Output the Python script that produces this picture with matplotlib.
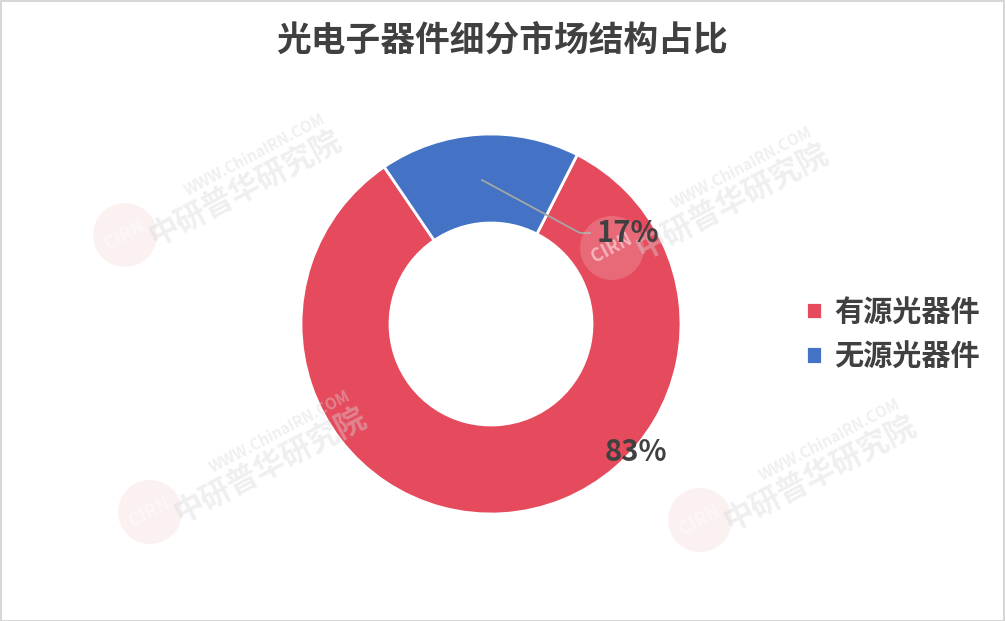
import numpy as np
import matplotlib.pyplot as plt
from matplotlib.patches import Circle, Rectangle

plt.rcParams['font.family'] = ['Noto Sans CJK SC', 'DejaVu Sans']

title = '光电子器件细分市场结构占比'
labels = ['有源光器件', '无源光器件']
values = [83, 17]
colors = ['#e54b5d', '#4472c4']
text_color = '#404040'

W, H = 1005, 621
fig = plt.figure(figsize=(W / 100, H / 100), dpi=100)
ax = fig.add_axes([0, 0, 1, 1])

# watermarks (faint)
def watermark(x, y):
    ang = 28
    ax.add_patch(Circle((x, H - y), 32, facecolor='#f3c9c9', edgecolor='none', alpha=0.25, zorder=5))
    ax.text(x, H - y, 'CIRN', fontsize=13, fontstyle='italic', fontweight='bold', color='white',
            alpha=0.5, rotation=ang, ha='center', va='center', zorder=6)
    t = np.radians(ang)
    ax.text(x + 40 + 90 * np.cos(t), H - y + 5 + 90 * np.sin(t), '中研普华研究院', fontsize=22, fontweight='bold',
            color='#d9d9d9', alpha=0.4, rotation=ang, ha='center', va='center', zorder=6)
    ax.text(x + 50 + 90 * np.cos(t), H - y + 38 + 90 * np.sin(t), 'WWW.ChinaIRN.COM', fontsize=11,
            fontweight='bold', color='#d9d9d9', alpha=0.4, rotation=ang, ha='center', va='center', zorder=6)

for wx, wy in [(125, 235), (612, 248), (150, 512), (700, 520)]:
    watermark(wx, wy)

cx, cy, r = 491, H - 324, 190
wedges, _ = ax.pie(values, colors=colors, radius=r, center=(cx, cy), startangle=63,
                   counterclock=False, frame=True,
                   wedgeprops=dict(width=89, edgecolor='white', linewidth=2))
ax.set_xlim(0, W)
ax.set_ylim(0, H)
ax.set_aspect('auto')
ax.axis('off')

# data labels
ax.plot([482, 580, 590], [H - 180, H - 233, H - 233], color='#a6a6a6', lw=1.3, zorder=4)
ax.text(628, H - 233, f'{values[1]}%', fontsize=21, fontweight='bold', color=text_color,
        ha='center', va='center', zorder=7)
ax.text(636, H - 452, f'{values[0]}%', fontsize=21, fontweight='bold', color=text_color,
        ha='center', va='center', zorder=7)

fig.text(502 / W, 1 - 40 / H, title, fontsize=25, fontweight='bold', color=text_color,
         ha='center', va='center')

leg = ax.legend(wedges, labels, loc='center left', bbox_to_anchor=(780 / W, 1 - 334 / H),
                frameon=False, fontsize=21, handlelength=0.55, handleheight=0.55,
                handletextpad=0.4, labelspacing=0.5)
for t in leg.get_texts():
    t.set_color(text_color)
    t.set_fontweight('bold')

fig.add_artist(Rectangle((0.5 / W, 0.5 / H), 1 - 1.5 / W, 1 - 1.5 / H, transform=fig.transFigure,
                         fill=False, edgecolor='#d0d0d0', lw=1.2))

fig.savefig('out.png', dpi=100)
